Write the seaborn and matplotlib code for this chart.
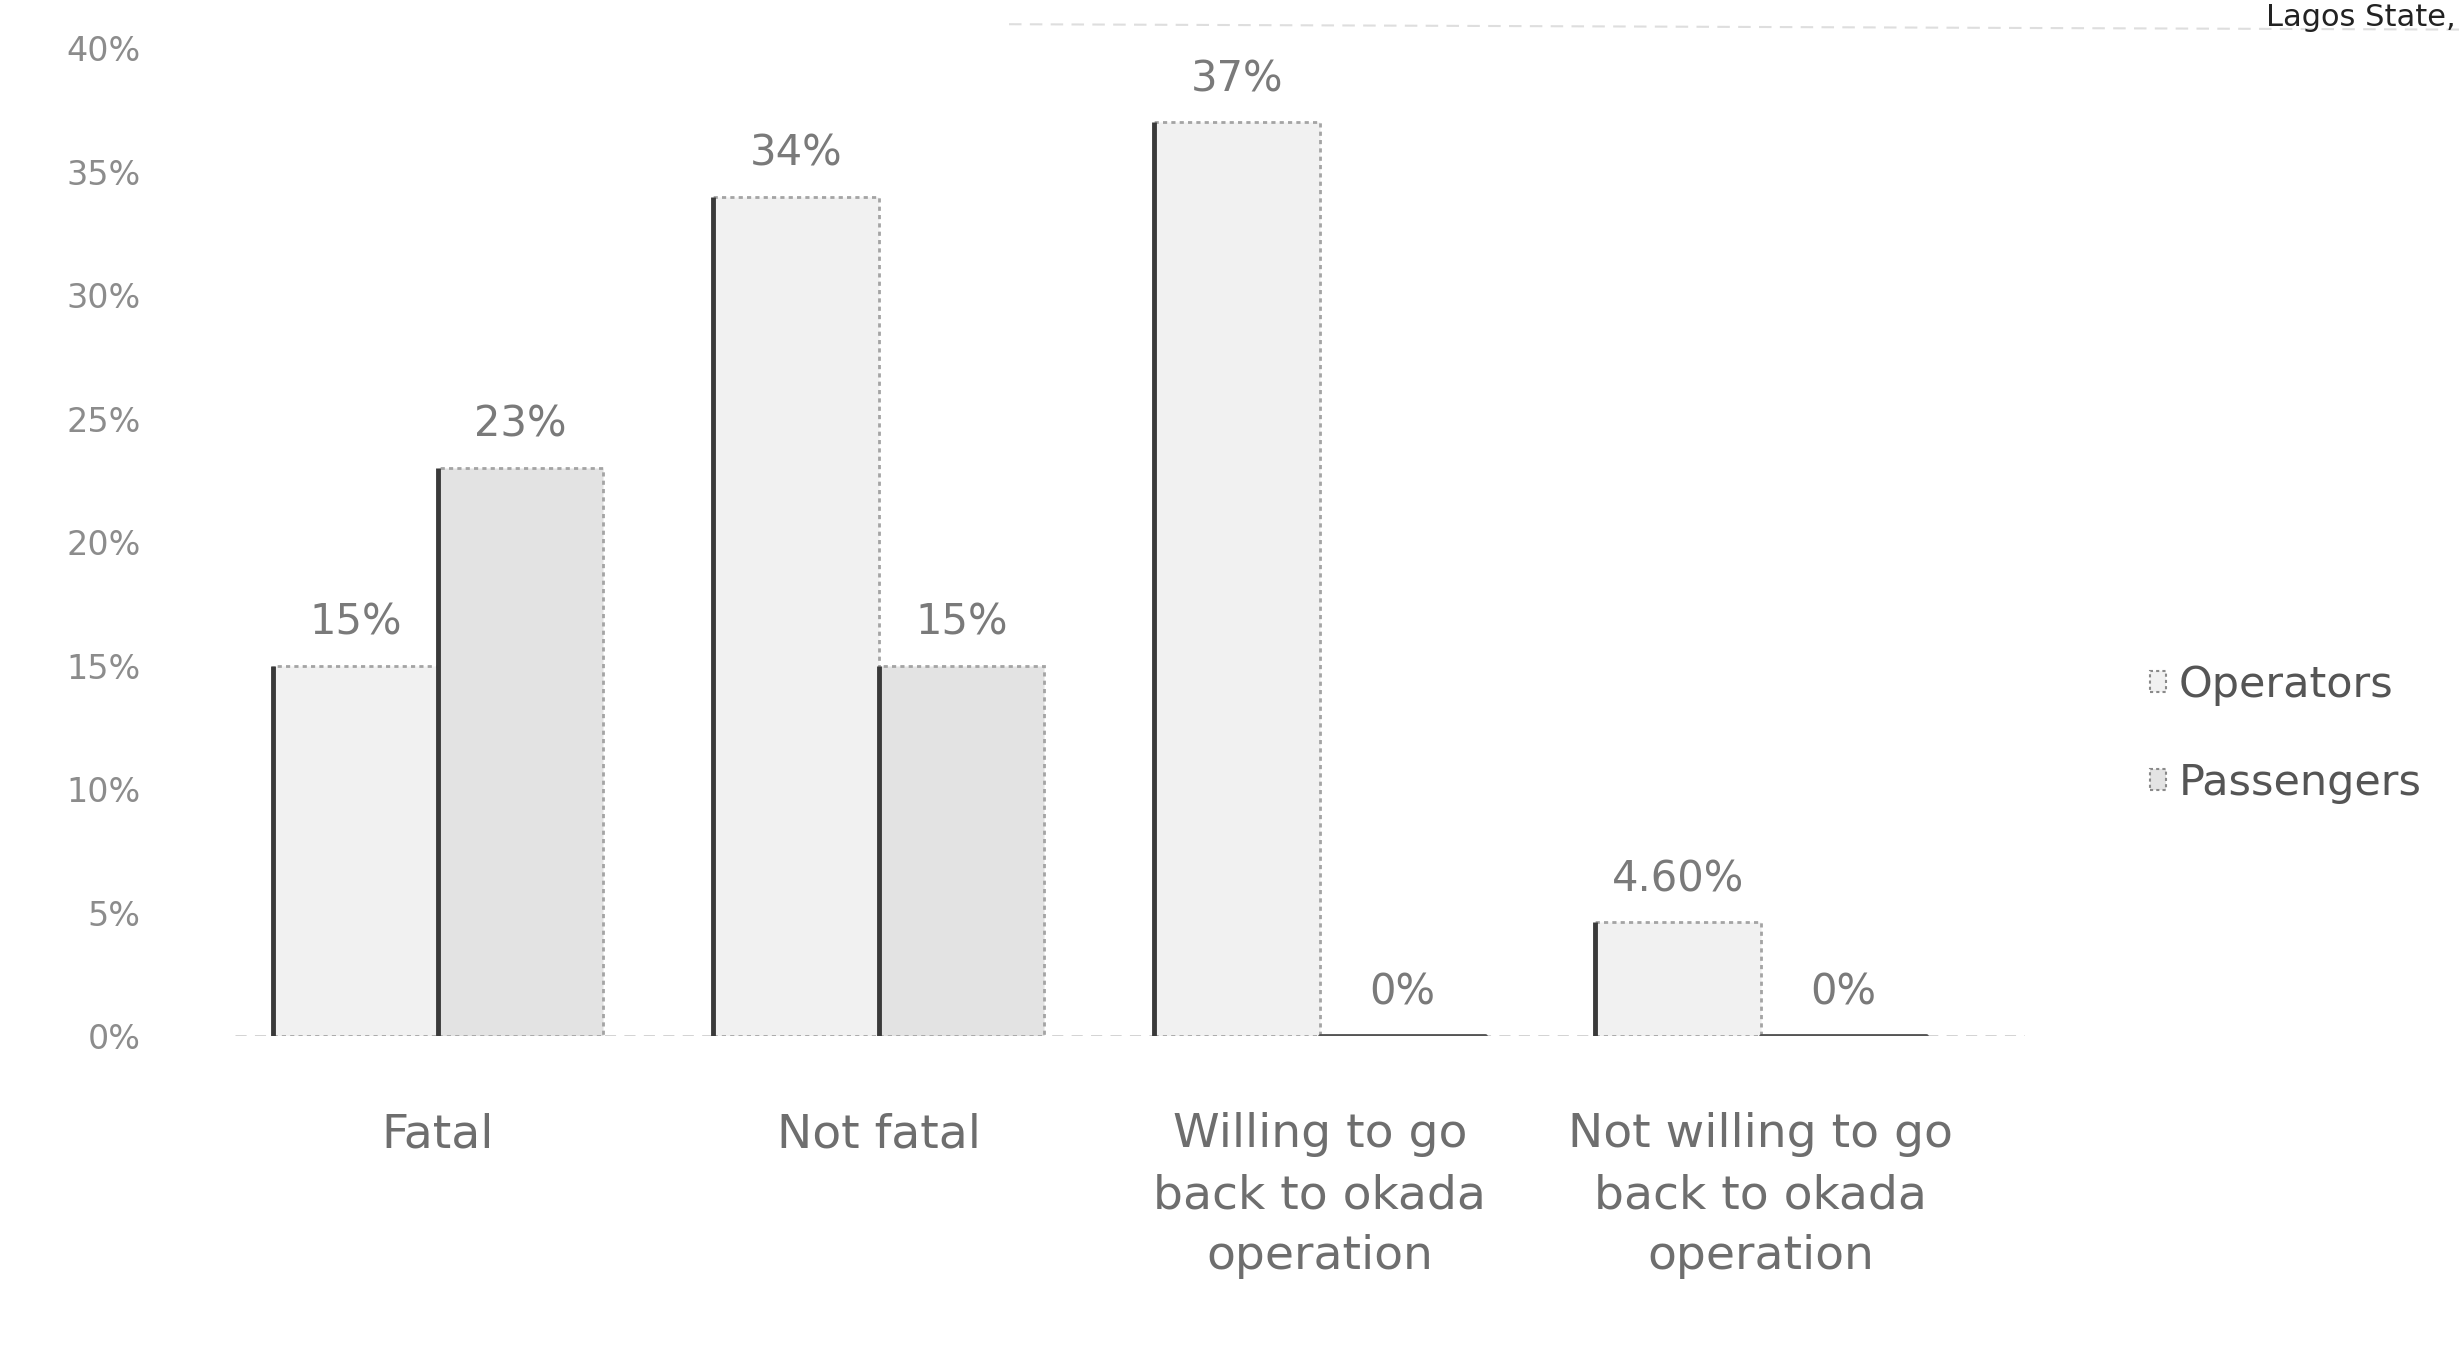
"""Okada accident outcomes: operators vs passengers bar chart."""

import matplotlib

matplotlib.use("Agg")
import matplotlib.pyplot as plt
import pandas as pd
import seaborn as sns
from matplotlib.lines import Line2D
from matplotlib.patches import Patch

categories = [
    "Fatal",
    "Not fatal",
    "Willing to go\nback to okada\noperation",
    "Not willing to go\nback to okada\noperation",
]
groups = ["Operators", "Passengers"]
operators = [15, 34, 37, 4.6]
passengers = [23, 15, 0, 0]
operator_labels = ["15%", "34%", "37%", "4.60%"]
passenger_labels = ["23%", "15%", "0%", "0%"]
y_ticks = [0, 5, 10, 15, 20, 25, 30, 35, 40]
y_tick_labels = ["0%", "5%", "10%", "15%", "20%", "25%", "30%", "35%", "40%"]

fill_colors = ["#f1f1f1", "#e3e3e3"]

sns.set_theme(style="white")
plt.rcParams["font.family"] = ["DejaVu Sans"]

df = pd.DataFrame(
    {
        "category": categories * 2,
        "group": [groups[0]] * len(categories) + [groups[1]] * len(categories),
        "value": operators + passengers,
    }
)

fig = plt.figure(figsize=(24.61, 13.45), dpi=100)
ax = fig.add_axes([0.0955, 0.2297, 0.7275, 0.7435])

ax.axhline(0, color="#cfcfcf", lw=2, ls=(0, (4, 3)), zorder=0)

sns.barplot(
    data=df,
    x="category",
    y="value",
    hue="group",
    order=categories,
    hue_order=groups,
    palette=fill_colors,
    saturation=1,
    width=0.75,
    legend=False,
    ax=ax,
)

for container, labels in zip(ax.containers, [operator_labels, passenger_labels]):
    for bar in container:
        bar.set_edgecolor("#a4a4a4")
        bar.set_linewidth(2)
        bar.set_linestyle((0, (1.5, 1.5)))
        x0 = bar.get_x()
        h = bar.get_height()
        if h > 0:
            ax.plot([x0, x0], [0, h], color="#3a3a3a", lw=3.5,
                    solid_capstyle="butt", zorder=3)
        else:
            ax.plot([x0, x0 + bar.get_width()], [0, 0], color="#555555",
                    lw=3.5, zorder=3)
    ax.bar_label(container, labels=labels, padding=16, fontsize=30,
                 color="#7a7a7a")

ax.set_xlim(-0.46, 3.6)
ax.set_ylim(0, 40.5)
ax.set_yticks(y_ticks, y_tick_labels)
ax.set_xlabel("")
ax.set_ylabel("")
ax.tick_params(axis="y", length=0, pad=68, labelsize=24, labelcolor="#8c8c8c")
ax.tick_params(axis="x", length=0, pad=55, labelsize=34, labelcolor="#6e6e6e")
for lbl in ax.get_xticklabels():
    lbl.set_linespacing(1.45)
sns.despine(ax=ax, left=True, bottom=True)

handles = [
    Patch(facecolor=c, edgecolor="#8a8a8a", linestyle=(0, (1.5, 1.5)), lw=1.5)
    for c in fill_colors
]
fig.legend(
    handles,
    groups,
    loc="center left",
    bbox_to_anchor=(0.8736, 0.4543),
    frameon=False,
    borderpad=0,
    borderaxespad=0,
    fontsize=31,
    handlelength=0.37,
    handleheight=0.37,
    handletextpad=0.3,
    labelspacing=1.3,
    labelcolor="#555555",
)

# title remnant at the top edge of the scan
fig.text(0.998, 0.998, "Lagos State,", ha="right", va="top", fontsize=22,
         color="#222222")
fig.add_artist(Line2D([0.41, 1.0], [0.982, 0.978], transform=fig.transFigure,
                      color="#dedede", lw=1.5, ls=(0, (6, 4))))

fig.savefig("out.png", dpi=100)
plt.close(fig)
